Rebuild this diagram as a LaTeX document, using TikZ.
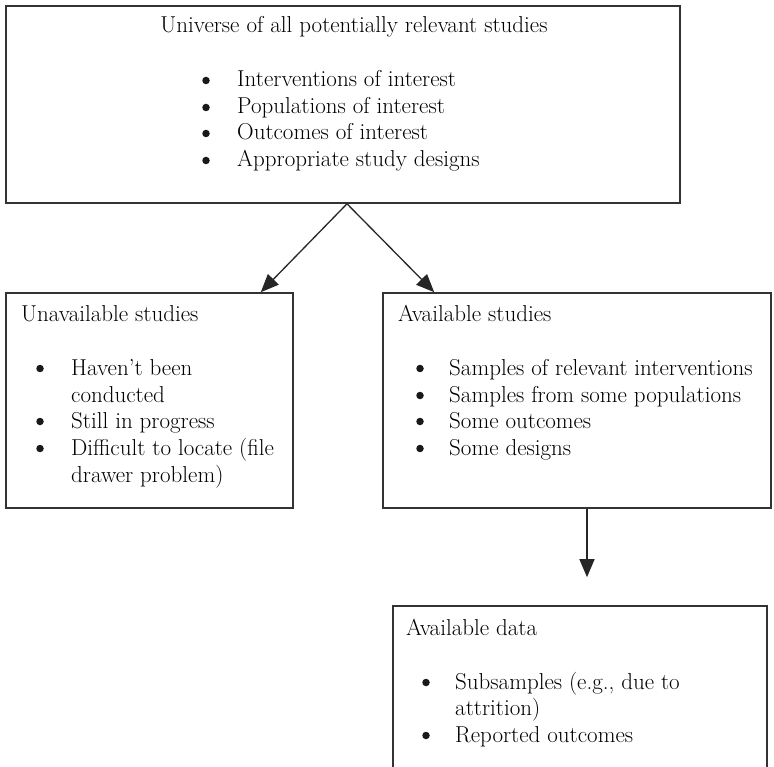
\documentclass[tikz,border=0pt]{standalone}
\usepackage{fontspec}
\usetikzlibrary{arrows.meta}
\begin{document}
\begin{tikzpicture}[x=1pt,y=-1pt,
  box/.style={draw=black!80, line width=1.6pt, inner sep=0pt},
  txt/.style={anchor=base west, inner sep=0pt, font=\fontsize{23}{27}\selectfont},
  ttl/.style={anchor=base, inner sep=0pt, font=\fontsize{23}{27}\selectfont},
  bul/.style={circle, fill=black!90, inner sep=0pt, minimum size=7.5pt},
  arr/.style={draw=black!85, line width=1.3pt, -{Triangle[length=18pt,width=15pt]}}]
\fill[white] (0,0) rectangle (774,767);
\useasboundingbox (0,0) rectangle (774,767);
% boxes
\node[box, minimum width=674pt, minimum height=197pt] (univ) at (343,104.5) {};
\node[box, minimum width=287pt, minimum height=215pt] (unav) at (149.5,400.5) {};
\node[box, minimum width=388pt, minimum height=215pt] (avst) at (577,400.5) {};
\node[box, minimum width=374pt, minimum height=180pt] (avda) at (580,696) {};
% top box text
\node[ttl] (t0) at (354,33) {Universe of all potentially relevant studies};
\node[bul] (b01) at (206,80.5) {};
\node[txt] (t01) at (237,87) {Interventions of interest};
\node[bul] (b02) at (206,107.5) {};
\node[txt] (t02) at (237,114) {Populations of interest};
\node[bul] (b03) at (206,133.5) {};
\node[txt] (t03) at (237,140) {Outcomes of interest};
\node[bul] (b04) at (206,160.5) {};
\node[txt] (t04) at (237,167) {Appropriate study designs};
% left box text
\node[txt] (l0) at (21,322) {Unavailable studies};
\node[bul] (lb1) at (40,368.5) {};
\node[txt] (l1) at (71,375) {Haven’t been};
\node[txt] (l1b) at (71,402) {conducted};
\node[bul] (lb2) at (40,421.5) {};
\node[txt] (l2) at (71,428) {Still in progress};
\node[bul] (lb3) at (40,448.5) {};
\node[txt] (l3) at (71,455) {Difficult to locate (file};
\node[txt] (l3b) at (71,482) {drawer problem)};
% middle box text
\node[txt] (m0) at (398,322) {Available studies};
\node[bul] (mb1) at (420,368.5) {};
\node[txt] (m1) at (449,375) {Samples of relevant interventions};
\node[bul] (mb2) at (420,395.5) {};
\node[txt] (m2) at (449,402) {Samples from some populations};
\node[bul] (mb3) at (420,421.5) {};
\node[txt] (m3) at (449,428) {Some outcomes};
\node[bul] (mb4) at (420,448.5) {};
\node[txt] (m4) at (449,455) {Some designs};
% bottom box text
\node[txt] (d0) at (406,635) {Available data};
\node[bul] (db1) at (426,682.5) {};
\node[txt] (d1) at (455,689) {Subsamples (e.g., due to};
\node[txt] (d1b) at (455,715) {attrition)};
\node[bul] (db2) at (426,735.5) {};
\node[txt] (d2) at (455,742) {Reported outcomes};
% arrows
\draw[arr] ([xshift=4pt]univ.south) -- ([xshift=-33pt]unav.north east);
\draw[arr] ([xshift=4pt]univ.south) -- ([xshift=52pt]avst.north west);
\coordinate (dtip) at ([xshift=7pt,yshift=28pt]avda.north);
\draw[arr] ([xshift=10pt]avst.south) -- (dtip);
\end{tikzpicture}
\end{document}
